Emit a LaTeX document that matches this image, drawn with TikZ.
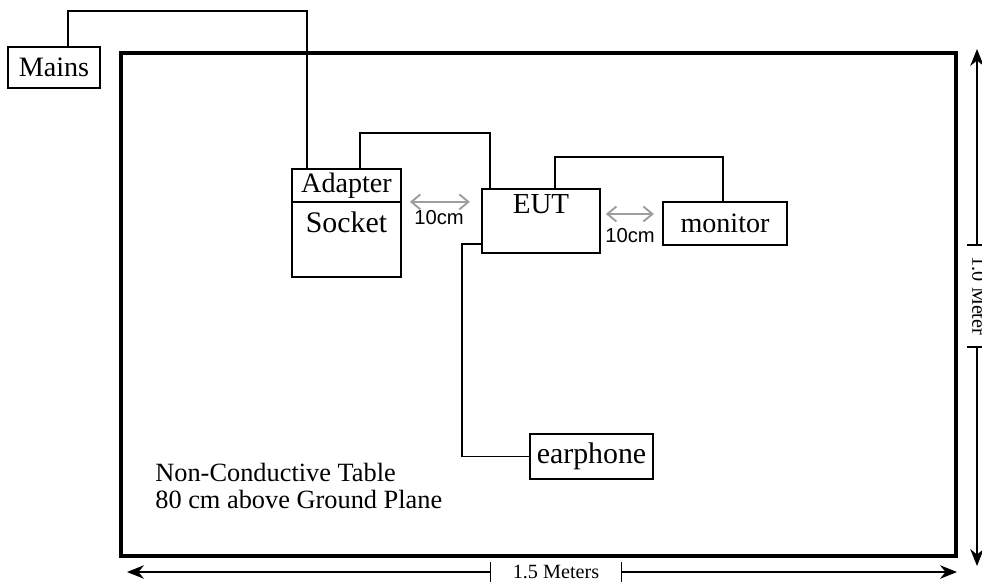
\documentclass[tikz,border=0pt]{standalone}
\usepackage{fontspec}
\setmainfont{Liberation Serif}
\newfontfamily\arialfont{Liberation Sans}
\usetikzlibrary{arrows.meta, positioning}

\tikzset{
  box/.style={draw, line width=1pt, inner sep=0pt, font=\fontsize{16}{18}\selectfont},
  lbl/.style={inner sep=0pt, font=\fontsize{16}{18}\selectfont},
  wire/.style={line width=1pt},
  gap/.style={draw=black!38, line width=1.1pt, {Straight Barb[length=0.18cm,width=0.3cm]}-{Straight Barb[length=0.18cm,width=0.3cm]}},
  gaplbl/.style={inner sep=0pt, font=\arialfont\fontsize{11.5}{13}\selectfont},
  dim/.style={line width=0.7pt, -{Stealth[length=0.34cm,width=0.27cm]}},
  dimlbl/.style={inner sep=0pt, font=\fontsize{11.5}{13}\selectfont}
}

\begin{document}
\begin{tikzpicture}[x=0.02cm, y=-0.02cm]
\useasboundingbox (0,0) rectangle (982,585);

% table
\draw [line width=2pt] (121,53) rectangle (956,556);
\node at (155,486) [anchor=west, align=left, inner sep=0pt, font=\fontsize{15}{15.9}\selectfont] (tabletext) {Non-Conductive Table\\80 cm above Ground Plane};

% boxes
\node at (54,67.5) [box, minimum width=1.84cm, minimum height=0.82cm] (mains) {Mains};
\node at (346.5,185.5) [box, minimum width=2.18cm, minimum height=0.66cm] (adapter) {Adapter};
\node at (346.5,239.5) [box, minimum width=2.18cm, minimum height=1.5cm] (socket) {};
\node at (346.5,222) [lbl, font=\fontsize{17}{19}\selectfont] (sockettext) {Socket};
\node at (541,221) [box, minimum width=2.36cm, minimum height=1.28cm] (eut) {};
\node at (541,204) [lbl, font=\fontsize{16.5}{19}\selectfont] (euttext) {EUT};
\node at (725,223.5) [box, minimum width=2.48cm, minimum height=0.86cm] (monitor) {monitor};
\node at (591.5,456.5) [box, minimum width=2.46cm, minimum height=0.9cm, font=\fontsize{17}{19}\selectfont] (earphone) {earphone};

% cables
\draw [wire] ([xshift=0.28cm]mains.north) -- ++(0,-35) -| ([xshift=-0.79cm]adapter.north);
\draw [wire] ([xshift=0.27cm]adapter.north) -- ++(0,-35) -| ([xshift=-1.02cm]eut.north);
\draw [wire] ([xshift=0.28cm]eut.north) -- ++(0,-31) -| ([xshift=-0.04cm]monitor.north);
\draw [wire] ([yshift=-0.46cm]eut.west) -- ++(-19,0) |- (earphone.west);

% 10cm spacings
\draw [gap] ([xshift=0.16cm,yshift=0.02cm]adapter.south east) -- ++(60,0);
\node at (439,218) [gaplbl] (gapa) {10cm};
\draw [gap] ([xshift=0.1cm,yshift=0.14cm]eut.east) -- ++(48,0);
\node at (630,236) [gaplbl] (gapb) {10cm};

% dimensions
\node at (556,572) [dimlbl, minimum width=2.6cm] (wlab) {1.5 Meters};
\coordinate (wleft) at (127,572);
\coordinate (wright) at (957,572);
\draw [dim] (wlab.west) -- (wleft);
\draw [dim] (wlab.east) -- (wright);
\draw [line width=0.7pt] ([yshift=0.2cm]wlab.west) -- ([yshift=-0.2cm]wlab.west);
\draw [line width=0.7pt] ([yshift=0.2cm]wlab.east) -- ([yshift=-0.2cm]wlab.east);

\node at (979,296) [dimlbl, rotate=-90] (hlab) {1.0 Meter};
\coordinate (htop) at (977,49);
\coordinate (hup) at (977,245);
\coordinate (hdn) at (977,347);
\coordinate (hbot) at (977,566);
\draw [dim] (hup) -- (htop);
\draw [dim] (hdn) -- (hbot);
\draw [line width=0.7pt] ([xshift=-0.2cm]hup) -- ([xshift=0.2cm]hup);
\draw [line width=0.7pt] ([xshift=-0.2cm]hdn) -- ([xshift=0.2cm]hdn);
\end{tikzpicture}
\end{document}
